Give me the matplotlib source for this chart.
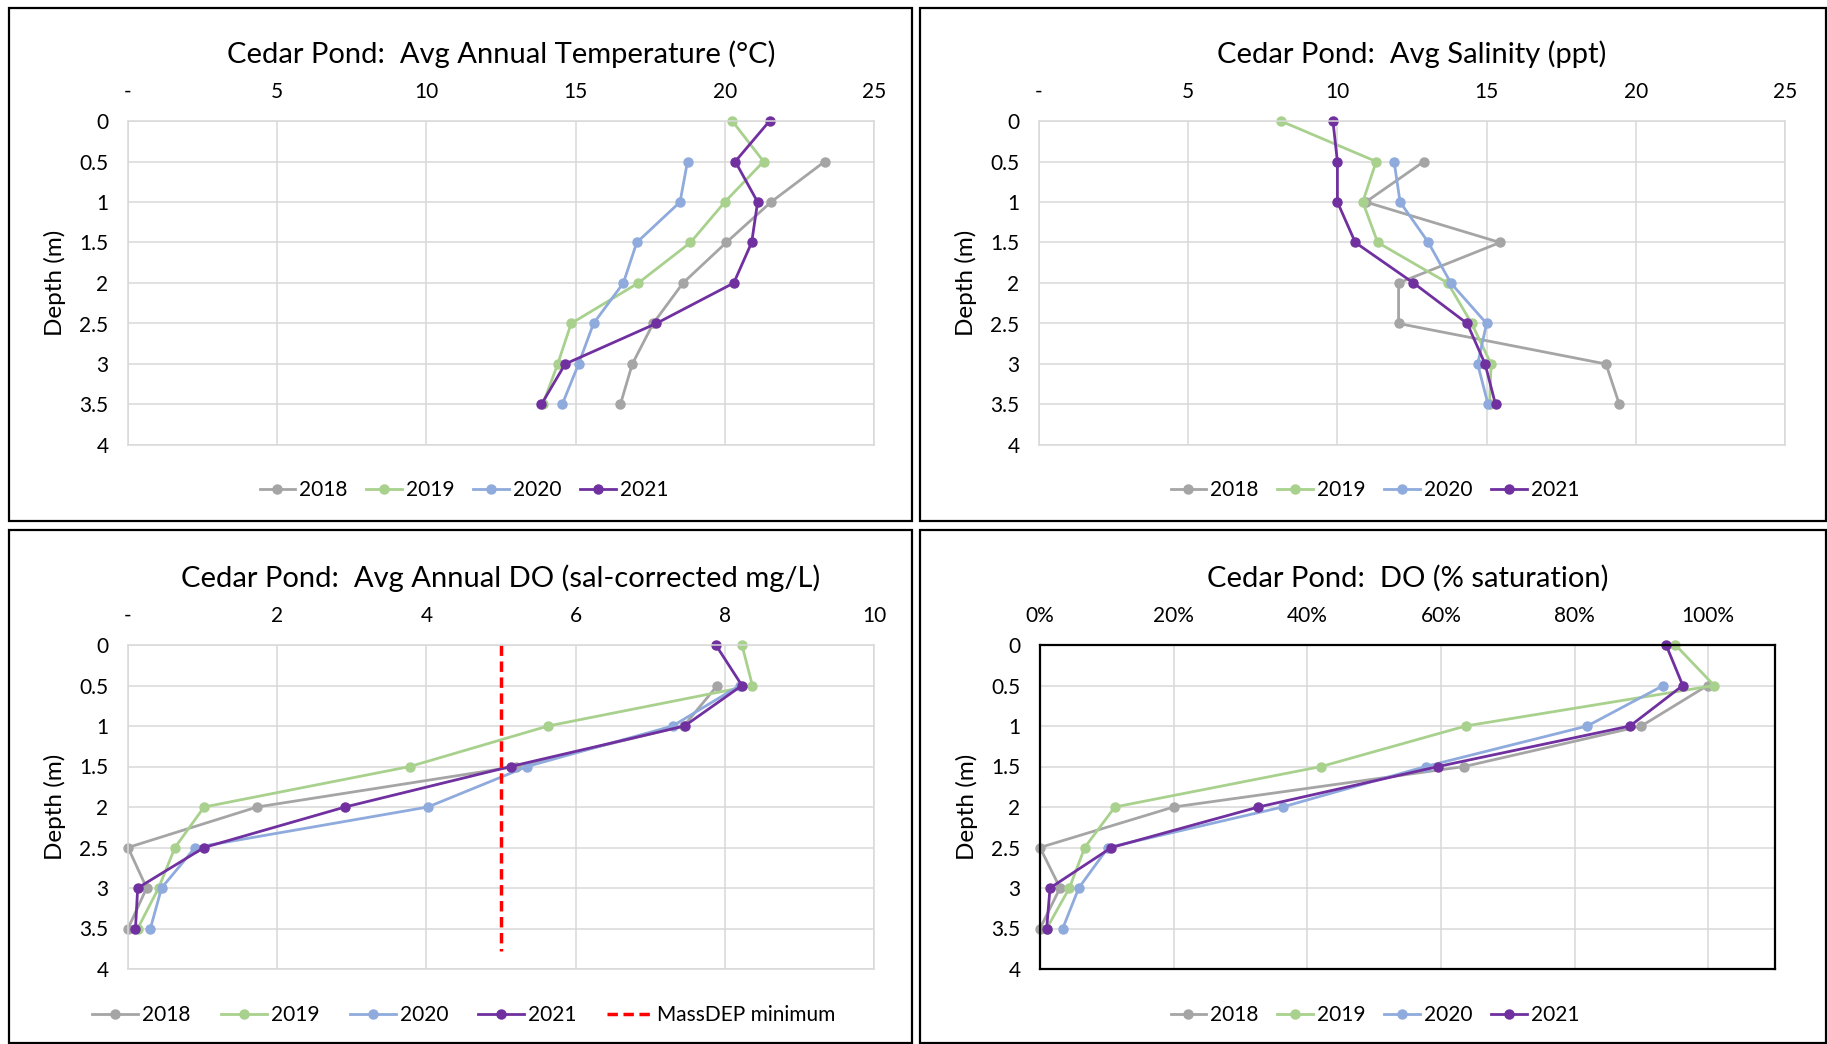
import matplotlib
matplotlib.use("Agg")
import matplotlib.pyplot as plt
from matplotlib.patches import Rectangle
from matplotlib.ticker import FuncFormatter

plt.rcParams['font.family'] = ['Lato', 'DejaVu Sans']

# ---------------- data ----------------
years = ["2018", "2019", "2020", "2021"]
colors = ["#A5A5A5", "#A9D18E", "#8FAADC", "#7030A0"]

depth_full = [0, 0.5, 1, 1.5, 2, 2.5, 3, 3.5]
depth_no0 = [0.5, 1, 1.5, 2, 2.5, 3, 3.5]

# Temperature (°C)
temp_2018 = [23.35, 21.55, 20.05, 18.6, 17.6, 16.9, 16.5]
temp_2019 = [20.25, 21.3, 20.0, 18.85, 17.1, 14.85, 14.4, 13.9]
temp_2020 = [18.75, 18.5, 17.05, 16.6, 15.6, 15.1, 14.55]
temp_2021 = [21.5, 20.35, 21.1, 20.9, 20.3, 17.7, 14.65, 13.85]

# Salinity (ppt)
sal_2018 = [12.9, 10.95, 15.45, 12.05, 12.05, 19.0, 19.45]
sal_2019 = [8.1, 11.3, 10.85, 11.35, 13.7, 14.5, 15.15, 15.1]
sal_2020 = [11.9, 12.1, 13.05, 13.8, 15.0, 14.7, 15.05]
sal_2021 = [9.85, 10.0, 10.0, 10.6, 12.55, 14.35, 14.95, 15.3]

# DO (sal-corrected mg/L)
do_2018 = [7.9, 7.45, 5.2, 1.73, 0.0, 0.25, 0.0]
do_2019 = [8.23, 8.37, 5.63, 3.78, 1.02, 0.63, 0.41, 0.13]
do_2020 = [8.2, 7.3, 5.35, 4.02, 0.9, 0.45, 0.3]
do_2021 = [7.88, 8.23, 7.46, 5.13, 2.91, 1.02, 0.13, 0.1]
massdep_x = [5, 5]
massdep_depth = [0, 3.78]

# DO (% saturation)
pct_2018 = [0.999, 0.90, 0.635, 0.20, 0.0, 0.03, 0.0]
pct_2019 = [0.951, 1.009, 0.637, 0.421, 0.112, 0.067, 0.044, 0.01]
pct_2020 = [0.933, 0.819, 0.577, 0.363, 0.102, 0.058, 0.034]
pct_2021 = [0.937, 0.962, 0.883, 0.596, 0.327, 0.107, 0.015, 0.01]

y_ticks = [0, 0.5, 1, 1.5, 2, 2.5, 3, 3.5, 4]
y_labels = ["0", "0.5", "1", "1.5", "2", "2.5", "3", "3.5", "4"]

W, H = 1827, 1044
fig = plt.figure(figsize=(W / 100, H / 100), dpi=100)


def fx(px):
    return px / W


def fy(py):
    return 1 - py / H


def panel_box(x0, y0, x1, y1):
    fig.patches.append(Rectangle((fx(x0), fy(y1)), fx(x1 - x0), (y1 - y0) / H,
                                 transform=fig.transFigure, fill=False,
                                 edgecolor="black", linewidth=1.6, zorder=0))


def make_axes(x0, y0, x1, y1):
    return fig.add_axes([fx(x0), fy(y1), fx(x1 - x0), (y1 - y0) / H])


def style(ax, title, xlim, xticks, xfmt, black_frame=False):
    ax.set_xlim(*xlim)
    ax.set_ylim(4, 0)
    ax.set_xticks(xticks)
    ax.xaxis.set_major_formatter(FuncFormatter(xfmt))
    ax.set_yticks(y_ticks)
    ax.set_yticklabels(y_labels)
    ax.xaxis.tick_top()
    ax.tick_params(axis="both", length=0, labelsize=15, colors="#000000")
    ax.tick_params(axis="x", pad=14)
    ax.tick_params(axis="y", pad=14)
    ax.grid(True, color="#D9D9D9", linewidth=1.1)
    ax.set_axisbelow(True)
    for s in ax.spines.values():
        if black_frame:
            s.set_color("black")
            s.set_linewidth(1.6)
        else:
            s.set_color("#D9D9D9")
            s.set_linewidth(1.1)
    ax.set_ylabel("Depth (m)", fontsize=17.5, labelpad=10)
    ax.set_title(title, fontsize=21, pad=42)


def plot_series(ax, series_list):
    handles = []
    for yr, col, (xs, ds) in zip(years, colors, series_list):
        h, = ax.plot(xs, ds, color=col, linewidth=2, marker="o",
                     markersize=6.5, label=yr, clip_on=False)
        handles.append(h)
    return handles


def add_legend(handles, cx, cy, ncol, hl=1.7, cs=0.9):
    fig.legend(handles=handles, loc="center", bbox_to_anchor=(fx(cx), fy(cy)),
               ncol=ncol, frameon=False, fontsize=15, handlelength=hl,
               columnspacing=cs, handletextpad=0.2)


def num_fmt(v, pos):
    if abs(v) < 1e-9:
        return "-"
    return f"{v:g}"


def pct_fmt(v, pos):
    return f"{v * 100:.0f}%"


# ---- panels ----
panel_box(9, 8, 912, 521)
panel_box(920, 8, 1826, 521)
panel_box(9, 530, 912, 1043)
panel_box(920, 530, 1826, 1043)

# Temperature
ax1 = make_axes(128, 121, 874, 445)
style(ax1, "Cedar Pond:  Avg Annual Temperature (°C)", (0, 25), [0, 5, 10, 15, 20, 25], num_fmt)
h = plot_series(ax1, [(temp_2018, depth_no0), (temp_2019, depth_full),
                      (temp_2020, depth_no0), (temp_2021, depth_full)])
add_legend(h, 464, 490, 4)

# Salinity
ax2 = make_axes(1039, 121, 1785, 445)
style(ax2, "Cedar Pond:  Avg Salinity (ppt)", (0, 25), [0, 5, 10, 15, 20, 25], num_fmt)
h = plot_series(ax2, [(sal_2018, depth_no0), (sal_2019, depth_full),
                      (sal_2020, depth_no0), (sal_2021, depth_full)])
add_legend(h, 1375, 490, 4)

# DO mg/L
ax3 = make_axes(128, 645, 874, 969)
style(ax3, "Cedar Pond:  Avg Annual DO (sal-corrected mg/L)", (0, 10), [0, 2, 4, 6, 8, 10], num_fmt)
h = plot_series(ax3, [(do_2018, depth_no0), (do_2019, depth_full),
                      (do_2020, depth_no0), (do_2021, depth_full)])
hm, = ax3.plot(massdep_x, massdep_depth, color="#FF0000", linewidth=2.5,
               linestyle=(0, (3, 1.6)), label="MassDEP minimum")
add_legend(h + [hm], 464, 1015, 5, hl=2.2, cs=1.45)

# DO % saturation
ax4 = make_axes(1040, 645, 1775, 969)
style(ax4, "Cedar Pond:  DO (% saturation)", (0, 1.1), [0, 0.2, 0.4, 0.6, 0.8, 1.0], pct_fmt,
      black_frame=True)
h = plot_series(ax4, [(pct_2018, depth_no0), (pct_2019, depth_full),
                      (pct_2020, depth_no0), (pct_2021, depth_full)])
add_legend(h, 1375, 1015, 4)

fig.savefig("out.png", dpi=100)
